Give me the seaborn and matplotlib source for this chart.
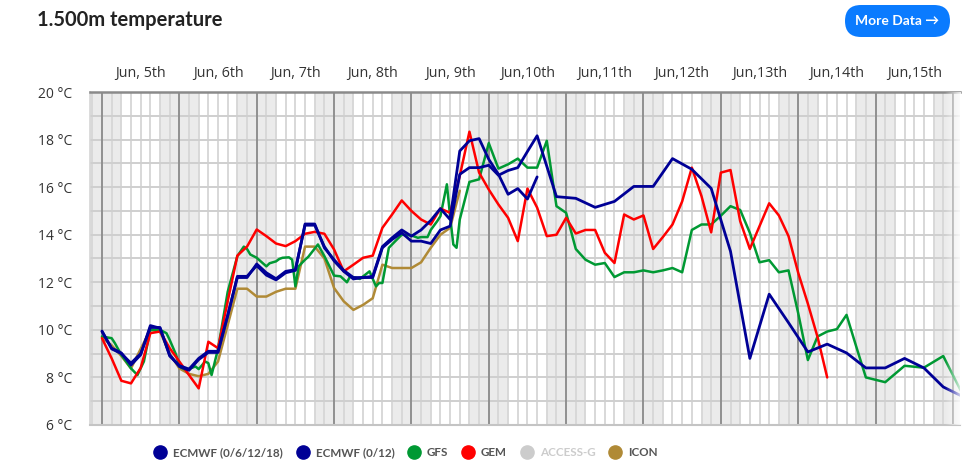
import numpy as np
import pandas as pd
import matplotlib.pyplot as plt
import seaborn as sns
from matplotlib.lines import Line2D
from matplotlib.patches import FancyBboxPatch

# ──────────────────────────────
# Data (hours from Jun 5th 00:00, temperature in °C)
# ──────────────────────────────
day_labels = ["Jun, 5th", "Jun, 6th", "Jun, 7th", "Jun, 8th", "Jun, 9th", "Jun,10th",
              "Jun,11th", "Jun,12th", "Jun,13th", "Jun,14th", "Jun,15th"]
y_ticks = [6, 8, 10, 12, 14, 16, 18, 20]

ecmwf6_hours = list(range(0, 136, 3))
ecmwf6_temp = [9.93, 9.23, 9.03, 8.52, 8.95, 10.18, 10.07, 8.95, 8.46, 8.30, 8.75, 9.05,
               9.05, 10.6, 12.2, 12.2, 12.77, 12.4, 12.15, 12.46, 12.53, 14.4, 14.4, 13.5,
               12.9, 12.46, 12.14, 12.2, 12.25, 13.5, 13.87, 14.2, 13.94, 14.2, 14.6, 15.1,
               14.64, 17.52, 17.95, 18.04, 17.17, 16.54, 15.7, 15.94, 15.5, 16.43]

ecmwf12_hours = list(range(0, 136, 3)) + [141, 147, 153, 159, 165, 171, 177, 183, 189, 195,
                                          201, 207, 213, 219, 225, 231, 237, 243, 249, 255,
                                          261, 267]
ecmwf12_temp = [9.95, 9.2, 9.0, 8.6, 9.0, 10.1, 10.1, 8.9, 8.5, 8.35, 8.8, 9.1,
                9.1, 10.6, 12.25, 12.25, 12.7, 12.3, 12.1, 12.4, 12.5, 14.45, 14.45, 13.45,
                12.95, 12.5, 12.2, 12.2, 12.2, 13.45, 13.8, 14.08, 13.73, 13.73, 13.63, 14.2,
                14.36, 16.54, 16.82, 16.82, 16.92, 16.5, 16.7, 16.82, 17.5, 18.16,
                15.6, 15.53, 15.15, 15.4, 16.03, 16.03, 17.2, 16.75, 15.95, 13.3,
                8.8, 11.5, 10.3, 9.07, 9.4, 9.03, 8.4, 8.4, 8.8, 8.4, 7.6, 7.2]

gfs_hours = [0, 3, 4, 6, 9, 10, 11, 13, 15, 18, 20, 21, 23, 24, 26, 29, 30, 32, 33, 34,
             36, 39, 42, 44, 45, 46, 48, 51, 52, 54, 55, 56, 58, 59, 60, 61, 63, 64, 67,
             69, 72, 74, 76, 77, 80, 83, 85, 86, 87, 89, 91, 93, 96, 98, 99, 101, 102,
             104, 105, 107, 108, 109, 110, 111, 114, 117, 120, 123, 126, 129, 132, 135,
             138, 141, 144, 147, 150, 153, 156, 159, 162, 165, 168, 171, 174, 177, 180,
             183, 186, 189, 192, 195, 198, 201, 204, 207, 210, 213, 216, 219, 222, 225,
             228, 231, 234, 237, 243, 249, 255, 261, 267]
gfs_temp = [9.72, 9.65, 9.44, 8.95, 8.38, 8.24, 8.1, 8.67, 10.0, 10.0, 9.86, 9.58, 8.95,
            8.46, 8.31, 8.46, 8.35, 8.67, 8.6, 8.1, 9.2, 11.6, 13.1, 13.5, 13.4, 13.17,
            13.03, 12.67, 12.8, 12.88, 12.98, 13.03, 13.05, 12.95, 11.83, 12.67, 12.95,
            13.07, 13.59, 13.1, 12.28, 12.25, 12.0, 12.25, 12.14, 12.46, 11.83, 11.97,
            11.97, 13.45, 13.73, 14.0, 13.97, 13.87, 13.9, 13.9, 14.2, 14.57, 14.78,
            16.12, 14.78, 13.59, 13.45, 14.64, 16.22, 16.33, 17.85, 16.78, 16.96, 17.2,
            16.82, 16.82, 17.95, 15.2, 14.92, 13.4, 12.95, 12.74, 12.81, 12.22, 12.42,
            12.42, 12.5, 12.42, 12.5, 12.6, 12.42, 14.2, 14.43, 14.43, 14.8, 15.2, 15.04,
            14.08, 12.84, 12.93, 12.42, 12.5, 10.7, 8.73, 9.72, 9.93, 10.03, 10.63, 9.3,
            8.0, 7.8, 8.49, 8.41, 8.9, 7.3]

gem_hours = list(range(0, 226, 3))
gem_temp = [9.65, 8.8, 7.86, 7.75, 8.4, 9.86, 9.93, 9.23, 8.67, 8.1, 7.54, 9.5, 9.23,
            11.2, 13.12, 13.5, 14.22, 13.94, 13.63, 13.52, 13.73, 14.04, 14.12, 14.04,
            13.38, 12.46, 12.74, 13.03, 13.12, 14.29, 14.85, 15.44, 15.0, 14.64, 14.43,
            15.1, 14.92, 16.47, 18.33, 16.61, 15.9, 15.27, 14.71, 13.73, 15.94, 15.14,
            13.94, 14.0, 14.71, 14.05, 14.2, 14.2, 13.24, 12.81, 14.85, 14.64, 14.81,
            13.4, 13.9, 14.43, 15.4, 16.82, 15.62, 14.1, 16.61, 16.72, 14.57, 13.4,
            14.36, 15.32, 14.81, 13.94, 12.4, 11.1, 9.7, 8.0]

icon_hours = list(range(0, 112, 3))
icon_temp = [9.68, 9.35, 8.9, 8.38, 9.2, 10.0, 9.93, 9.0, 8.38, 8.15, 8.05, 8.15, 8.67,
             10.2, 11.73, 11.73, 11.4, 11.4, 11.6, 11.73, 11.73, 13.5, 13.5, 13.0, 11.76,
             11.2, 10.84, 11.05, 11.33, 12.74, 12.6, 12.6, 12.6, 12.84, 13.45, 14.0,
             14.29, 15.85]

models = ["ECMWF (0/6/12/18)", "ECMWF (0/12)", "GFS", "GEM", "ACCESS-G", "ICON"]
colors = {"ECMWF (0/6/12/18)": "#000096", "ECMWF (0/12)": "#000096", "GFS": "#009933",
          "GEM": "#ff0000", "ACCESS-G": "#cccccc", "ICON": "#b08a36"}

series = {
    "ECMWF (0/6/12/18)": (ecmwf6_hours, ecmwf6_temp),
    "ECMWF (0/12)": (ecmwf12_hours, ecmwf12_temp),
    "GFS": (gfs_hours, gfs_temp),
    "GEM": (gem_hours, gem_temp),
    "ICON": (icon_hours, icon_temp),
}

# ──────────────────────────────
# Figure
# ──────────────────────────────
sns.set_theme(style="white")
plt.rcParams["font.family"] = ["Open Sans", "DejaVu Sans"]

fig = plt.figure(figsize=(9.72, 4.68), dpi=100)
ax = fig.add_axes([90 / 972, 43 / 468, 870 / 972, 333 / 468])

x_lo, x_hi = -3.72, 266.2

# night shading 18h -> 06h
for d in range(-1, 12):
    ax.axvspan(24 * d + 18, 24 * d + 30, color="#ebebeb", lw=0, zorder=0)

ax.vlines(np.arange(-3, 268, 3), 6, 20, color="#d6d6d6", lw=1.3, zorder=1)
ax.hlines(np.arange(6, 21, 1), x_lo, x_hi, color="#cfcfcf", lw=1.4, zorder=1)
ax.vlines(np.arange(0, 265, 24), 6, 20, color="#858585", lw=1.2, zorder=1.5)

for name in ["ICON", "GFS", "GEM", "ECMWF (0/12)", "ECMWF (0/6/12/18)"]:
    hrs, tmp = series[name]
    df = pd.DataFrame({"hour": hrs, "temp": tmp})
    lw = 2.0 if name.startswith("ECMWF") else 1.8
    sns.lineplot(data=df, x="hour", y="temp", color=colors[name], lw=lw, ax=ax,
                 sort=False, estimator=None, zorder=3)

# right-side fade
fade = np.ones((1, 200, 4))
fade[0, :, 3] = np.linspace(0, 0.85, 200)
ax.imshow(fade, extent=[261.5, x_hi, 6, 20], aspect="auto", zorder=5, interpolation="bilinear")

ax.set_xlim(x_lo, x_hi)
ax.set_ylim(6, 20)
ax.set_xlabel("")
ax.set_ylabel("")

ax.xaxis.tick_top()
ax.set_xticks([12 + 24 * i for i in range(len(day_labels))])
ax.set_xticklabels(day_labels, fontsize=10.3, color="#333333")
ax.set_yticks(y_ticks)
ax.set_yticklabels([f"{v} °C" for v in y_ticks], fontsize=10, color="#333333")
ax.tick_params(axis="x", length=0, pad=8)
ax.tick_params(axis="y", length=0, pad=13)

ax.spines["right"].set_visible(False)
ax.spines["top"].set_color("#8a8a8a")
ax.spines["top"].set_linewidth(1.8)
ax.spines["bottom"].set_color("#c4c4c4")
ax.spines["bottom"].set_linewidth(1.5)
ax.spines["left"].set_color("#d6d6d6")
ax.spines["left"].set_linewidth(1.2)

# title
fig.text(37 / 972, 1 - 20 / 468, "1.500m temperature", fontsize=14.5, weight="bold",
         color="#222222", va="center", ha="left", family=["Lato", "DejaVu Sans"])

# "More Data" button
bax = fig.add_axes([845 / 972, 431 / 468, 105 / 972, 32 / 468])
bax.set_xlim(0, 105)
bax.set_ylim(0, 32)
bax.axis("off")
bax.add_patch(FancyBboxPatch((0, 0), 105, 32, boxstyle="round,pad=0,rounding_size=16",
                             fc="#0a7bff", ec="none"))
bax.text(52.5, 16, "More Data →", color="white", fontsize=10, weight="bold",
         ha="center", va="center", family=["Lato", "DejaVu Sans"])

# legend
handles = [Line2D([], [], marker="o", ls="none", markersize=9.5, color=colors[m]) for m in models]
leg = fig.legend(handles, models, loc="center", bbox_to_anchor=(403 / 972, 15 / 468),
                 ncol=6, frameon=False, handletextpad=0.1, columnspacing=0.7,
                 prop={"family": ["Lato", "DejaVu Sans"], "weight": "bold", "size": 8.4})
for txt, m in zip(leg.get_texts(), models):
    txt.set_color("#cccccc" if m == "ACCESS-G" else "#555555")

fig.savefig("out.png", dpi=100)
